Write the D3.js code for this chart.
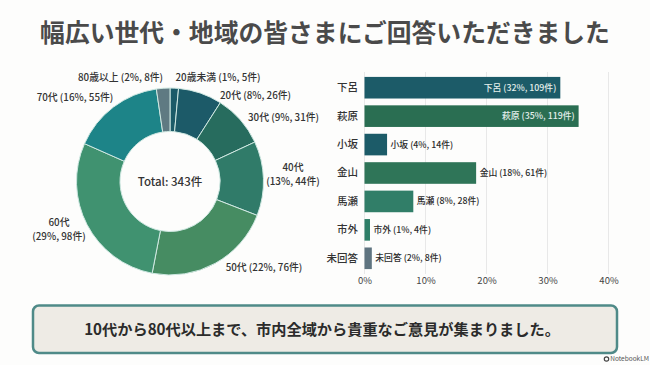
<!DOCTYPE html>
<html>
<head>
<meta charset="utf-8">
<script src="https://cdn.jsdelivr.net/npm/d3@7"></script>
<style>
  html, body { margin: 0; padding: 0; background: #fdfdfc; }
  svg { display: block; }
  text { font-family: "Noto Sans CJK JP", "Noto Sans", sans-serif; }
</style>
</head>
<body>
<svg id="viz" width="650" height="365"></svg>
<script>
const ageLabels = ["20歳未満", "20代", "30代", "40代", "50代", "60代", "70代", "80歳以上"];
const ageCounts = [5, 26, 31, 44, 76, 98, 55, 8];
const agePercents = [1, 8, 9, 13, 22, 29, 16, 2];
const ageColors = ["#1c5b68", "#1c5a68", "#276c5e", "#307b69", "#468c62", "#409270", "#1d8488", "#5f7a82"];

const areaLabels = ["下呂", "萩原", "小坂", "金山", "馬瀬", "市外", "未回答"];
const areaCounts = [109, 119, 14, 61, 28, 4, 8];
const areaPercents = [32, 35, 4, 18, 8, 1, 2];
// bar lengths, they differ a bit from the printed labels
const areaBars = [32.1, 35.1, 3.7, 18.3, 8.0, 0.9, 1.2];
const areaColors = ["#1c5b68", "#2a6e52", "#1c5b68", "#2f7558", "#317e68", "#2f7f68", "#5f7480"];
const xTicks = [0, 10, 20, 30, 40];

const svg = d3.select("#viz");

svg.append("text")
    .attr("x", 325).attr("y", 42)
    .attr("text-anchor", "middle")
    .attr("font-size", 24.8).attr("font-weight", 700)
    .attr("fill", "#4a4a4a")
    .text("幅広い世代・地域の皆さまにご回答いただきました");

// donut
const donut = svg.append("g").attr("transform", "translate(170,181.5)");
const pie = d3.pie().sort(null);
const arc = d3.arc().innerRadius(50).outerRadius(93.5);

donut.selectAll("path")
    .data(pie(ageCounts))
    .enter()
    .append("path")
    .attr("d", arc)
    .attr("fill", (d, i) => ageColors[i])
    .attr("stroke", "#cfe8e2")
    .attr("stroke-width", 1);

donut.append("text")
    .attr("y", 4.5)
    .attr("text-anchor", "middle")
    .attr("font-size", 11.5).attr("font-weight", 500)
    .attr("fill", "#333")
    .text("Total: 343件");

// label spots around the donut, relative to its centre
const ageLabelSpots = [[48, -101], [85.5, -83], [113.5, -61], [123, -10.5], [94, 89.5], [-111, 44.5], [-95, -81], [-49.5, -101]];
const ageLabelWrap = [false, false, false, true, false, true, false, false];

ageLabels.forEach(function(name, i) {
    const detail = "(" + agePercents[i] + "%, " + ageCounts[i] + "件)";
    const t = donut.append("text")
        .attr("text-anchor", "middle")
        .attr("font-size", 9.8).attr("font-weight", 500)
        .attr("fill", "#333")
        .attr("transform", "translate(" + ageLabelSpots[i] + ")");
    if (ageLabelWrap[i]) {
        t.append("tspan").attr("x", 0).attr("y", 0).text(name);
        t.append("tspan").attr("x", 0).attr("y", 13.5).text(detail);
    } else {
        t.text(name + " " + detail);
    }
});

// bars
const x = d3.scaleLinear().domain([0, 40]).range([364.5, 608.5]);
const y = d3.scaleBand().domain(areaLabels).range([73.5, 272.5]).paddingInner(0.24).paddingOuter(0.12);

const grid = svg.append("g");
grid.selectAll("line")
    .data(xTicks)
    .enter()
    .append("line")
    .attr("x1", d => x(d)).attr("x2", d => x(d))
    .attr("y1", 72).attr("y2", 274)
    .attr("stroke", "#e8e8e8");

const xAxis = svg.append("g")
    .attr("transform", "translate(0,274)")
    .call(d3.axisBottom(x).tickValues(xTicks).tickFormat(d => d + "%").tickSize(0).tickPadding(3));
xAxis.select(".domain").remove();
xAxis.selectAll("text")
    .attr("font-size", 9.5).attr("font-family", null).attr("fill", "#444");

const yAxis = svg.append("g")
    .attr("transform", "translate(358,0)")
    .call(d3.axisLeft(y).tickSize(0).tickPadding(0));
yAxis.select(".domain").remove();
yAxis.selectAll("text")
    .attr("font-size", 10.5).attr("font-weight", 500).attr("fill", "#333");

svg.append("g").selectAll("rect")
    .data(areaBars)
    .enter()
    .append("rect")
    .attr("x", x(0))
    .attr("y", (d, i) => y(areaLabels[i]))
    .attr("width", d => x(d) - x(0))
    .attr("height", y.bandwidth())
    .attr("fill", (d, i) => areaColors[i]);

svg.append("g").selectAll("text")
    .data(areaBars)
    .enter()
    .append("text")
    .attr("x", d => d > 30 ? x(d) - 4 : x(d) + 3.5)
    .attr("y", (d, i) => y(areaLabels[i]) + y.bandwidth() / 2 + 3)
    .attr("text-anchor", d => d > 30 ? "end" : "start")
    .attr("font-size", 8.8).attr("font-weight", 500)
    .attr("fill", d => d > 30 ? "#e4efec" : "#2b2b2b")
    .text((d, i) => areaLabels[i] + " (" + areaPercents[i] + "%, " + areaCounts[i] + "件)");

// message box
svg.append("rect")
    .attr("x", 33).attr("y", 305.5)
    .attr("width", 584).attr("height", 47.5)
    .attr("rx", 6)
    .attr("fill", "#eeebe5")
    .attr("stroke", "#4f8a88")
    .attr("stroke-width", 2.5);

svg.append("text")
    .attr("x", 322).attr("y", 335)
    .attr("text-anchor", "middle")
    .attr("font-size", 15.2).attr("font-weight", 700)
    .attr("fill", "#2b2b2b")
    .text("10代から80代以上まで、市内全域から貴重なご意見が集まりました。");

// NotebookLM mark
svg.append("circle")
    .attr("cx", 606.5).attr("cy", 359).attr("r", 2.2)
    .attr("fill", "none").attr("stroke", "#444").attr("stroke-width", 1.2);

svg.append("text")
    .attr("x", 649).attr("y", 361)
    .attr("text-anchor", "end")
    .attr("font-size", 6.5).attr("fill", "#555")
    .text("NotebookLM");
</script>
</body>
</html>
